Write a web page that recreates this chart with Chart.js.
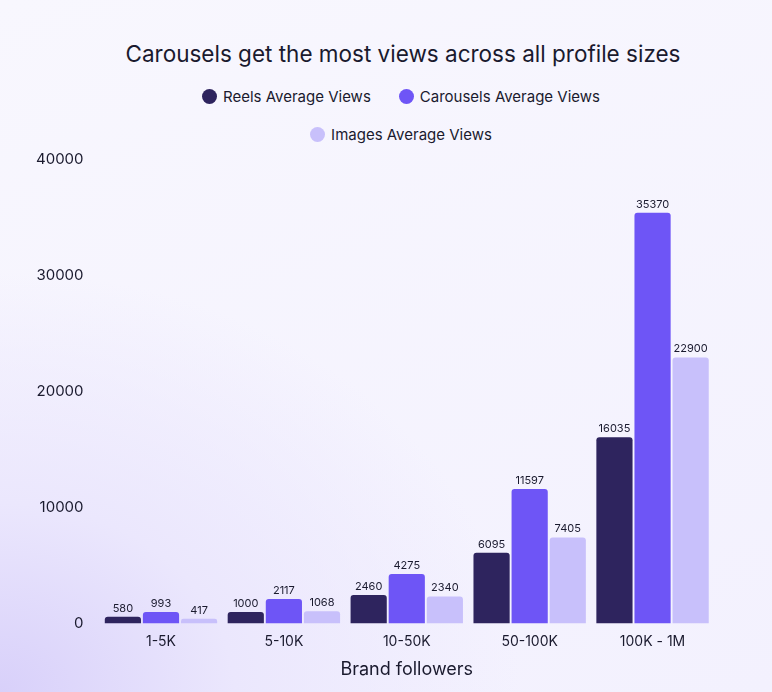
<!DOCTYPE html>
<html><head><meta charset="utf-8">
<script src="https://cdn.jsdelivr.net/npm/chart.js@4"></script>
<style>
html,body{margin:0;padding:0;width:772px;height:692px;overflow:hidden;font-family:Inter,sans-serif;color:#1a1a2e;
background:radial-gradient(ellipse 520px 420px at 0% 100%, #d8d0fa 0%, #ebe7fd 45%, rgba(246,244,254,0) 100%), linear-gradient(160deg,#f8f7fe,#f3f1fe);}
#title{position:absolute;top:40px;left:0;width:772px;padding-left:34px;box-sizing:border-box;text-align:center;font-size:22.5px;}
.leg{position:absolute;left:0;width:772px;padding-left:30px;box-sizing:border-box;display:flex;justify-content:center;gap:28px;font-size:15px;}
.it{display:flex;align-items:center;gap:6px}
.dot{width:15px;height:15px;border-radius:50%;display:inline-block}
#wrap{position:absolute;top:142px;left:0;width:772px;height:550px}
</style></head><body>
<div id="title">Carousels get the most views across all profile sizes</div>
<div class="leg" style="top:87px"><span class="it"><span class="dot" style="background:#2e245e"></span>Reels Average Views</span><span class="it"><span class="dot" style="background:#6e55f6"></span>Carousels Average Views</span></div>
<div class="leg" style="top:125px"><span class="it"><span class="dot" style="background:#c8c0fb"></span>Images Average Views</span></div>
<div id="wrap"><canvas id="c"></canvas></div>
<script>
const categories=["1-5K","5-10K","10-50K","50-100K","100K - 1M"];
const reels=[580,1000,2460,6095,16035];
const carousels=[993,2117,4275,11597,35370];
const images=[417,1068,2340,7405,22900];
const labelsPlugin={id:'vals',afterDatasetsDraw(ch){const c=ch.ctx;c.save();c.font='11px Inter';c.fillStyle='#1a1a2e';c.textAlign='center';c.textBaseline='bottom';
ch.data.datasets.forEach((d,i)=>{ch.getDatasetMeta(i).data.forEach((b,j)=>{c.fillText(d.data[j],b.x,b.y-3);});});c.restore();}};
new Chart(document.getElementById('c'),{type:'bar',
data:{labels:categories,datasets:[
{label:'Reels Average Views',data:reels,backgroundColor:'#2e245e'},
{label:'Carousels Average Views',data:carousels,backgroundColor:'#6e55f6'},
{label:'Images Average Views',data:images,backgroundColor:'#c8c0fb'}]},
options:{responsive:true,maintainAspectRatio:false,animation:false,
datasets:{bar:{categoryPercentage:0.93,barPercentage:0.95,borderRadius:{topLeft:3,topRight:3},borderSkipped:'bottom'}},
layout:{padding:{left:28,right:58,top:6,bottom:8}},
plugins:{legend:{display:false},tooltip:{enabled:false}},
scales:{y:{min:0,max:40000,ticks:{stepSize:10000,callback:v=>String(v),font:{size:15,family:'Inter'},color:'#1a1a2e',padding:8},grid:{display:false},border:{display:false}},
x:{ticks:{font:{size:14,family:'Inter'},color:'#1a1a2e',padding:2},grid:{display:false},border:{display:false},
title:{display:true,text:'Brand followers',font:{size:18,family:'Inter'},color:'#1a1a2e',padding:{top:6}}}}},
plugins:[labelsPlugin]});
</script></body></html>
